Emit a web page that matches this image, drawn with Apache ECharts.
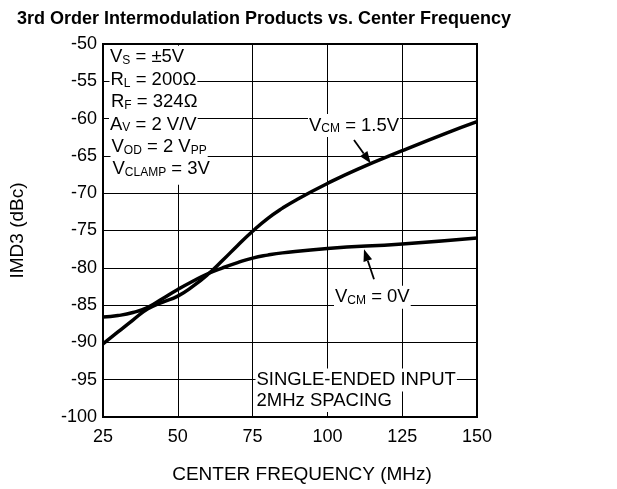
<!DOCTYPE html>
<html>
<head>
<meta charset="utf-8">
<script src="https://cdn.jsdelivr.net/npm/echarts@6/dist/echarts.min.js"></script>
<style>
  html, body { margin: 0; padding: 0; background: #fff; }
  #chart { width: 617px; height: 489px; }
</style>
</head>
<body>
<div id="chart"></div>
<script>
// Center frequency (MHz) and IMD3 (dBc) for the two common-mode settings
const freqVcm15 = [25, 30, 35, 40, 45, 50, 55, 60, 65, 70, 75, 80, 85, 90, 100, 110, 125, 140, 150];
const imdVcm15  = [-90.2, -88.6, -87.0, -85.5, -84.6, -83.8, -82.5, -80.9, -79.0, -77.0, -75.1, -73.4, -72.0, -70.8, -68.7, -66.8, -64.3, -61.9, -60.4];

const freqVcm0 = [25, 30, 35, 40, 45, 50, 55, 60, 65, 70, 75, 80, 85, 100, 125, 150];
const imdVcm0  = [-86.6, -86.4, -86.0, -85.3, -84.1, -82.9, -81.8, -80.8, -80.0, -79.3, -78.7, -78.3, -78.0, -77.4, -76.8, -76.0];

// Axis ranges / tick steps
const xTicks = [25, 50, 75, 100, 125, 150];
const yTicks = [-100, -95, -90, -85, -80, -75, -70, -65, -60, -55, -50];

const FONT = '"Liberation Sans", Arial, Helvetica, sans-serif';

function pairs(xs, ys) { return xs.map((x, i) => [x, ys[i]]); }

// Rich-text styles for labels with subscripts
const rich = {
  n: { fontSize: 18.5, fontFamily: FONT, color: '#000', lineHeight: 20, verticalAlign: 'bottom' },
  s: { fontSize: 12, fontFamily: FONT, color: '#000', lineHeight: 12, verticalAlign: 'bottom' }
};

function label(x, y, text, pad) {
  return {
    type: 'text', x: x, y: y, z: 100,
    style: {
      text: text, rich: rich, align: 'left', verticalAlign: 'top',
      backgroundColor: '#fff', padding: pad || [1, 1, 2, 1],
      font: '18.5px ' + FONT, fill: '#000'
    }
  };
}

function arrow(x1, y1, x2, y2) {
  const ang = Math.atan2(y2 - y1, x2 - x1);
  const len = 12, hw = 4.5;
  const bx = x2 - len * Math.cos(ang), by = y2 - len * Math.sin(ang);
  const px = -Math.sin(ang) * hw, py = Math.cos(ang) * hw;
  return [
    { type: 'line', z: 101, shape: { x1: x1, y1: y1, x2: bx, y2: by }, style: { stroke: '#000', lineWidth: 1.8 } },
    { type: 'polygon', z: 101, shape: { points: [[x2, y2], [bx + px, by + py], [bx - px, by - py]] }, style: { fill: '#000' } }
  ];
}

const chart = echarts.init(document.getElementById('chart'), null, { renderer: 'canvas' });

// Condition block: one white-backed line each, stacked so the boxes touch
const condTop = 45.8, condStep = 22.4;
const condLines = [
  '{n|V}{s|S}{n| = ±5V}',
  '{n|R}{s|L}{n| = 200Ω}',
  '{n|R}{s|F}{n| = 324Ω}',
  '{n|A}{s|V}{n| = 2 V/V}',
  '{n|V}{s|OD}{n| = 2 V}{s|PP}',
  '{n|V}{s|CLAMP}{n| = 3V}'
];
const condX = [109, 109.5, 110, 109, 110.5, 111.5];

const graphics = condLines.map((t, i) =>
  label(condX[i], condTop + i * condStep, t, i === condLines.length - 1 ? [1, 1, 6, 1] : [1, 1, 4, 1])
).concat([
  label(308, 114.1, '{n|V}{s|CM}{n| = 1.5V}'),
  label(334, 285.8, '{n|V}{s|CM}{n| = 0V}'),
  label(255.5, 368.4, '{n|SINGLE-ENDED INPUT}'),
  label(255.5, 389.1, '{n|2MHz SPACING}')
]).concat(arrow(354, 140, 370.7, 163.3), arrow(374, 279.3, 364, 249.3));

chart.setOption({
  animation: false,
  backgroundColor: '#fff',
  title: {
    text: '3rd Order Intermodulation Products vs. Center Frequency',
    left: 12, top: 5,
    textStyle: { fontFamily: FONT, fontWeight: 'bold', fontSize: 18, color: '#000' }
  },
  grid: {
    left: 103, top: 44, width: 374, height: 373,
    show: true, borderColor: '#000', borderWidth: 2, backgroundColor: 'transparent'
  },
  xAxis: {
    type: 'value', min: xTicks[0], max: xTicks[xTicks.length - 1], interval: 25,
    name: 'CENTER FREQUENCY (MHz)', nameLocation: 'middle', nameGap: 48,
    nameTextStyle: { fontFamily: FONT, fontSize: 19, color: '#000', padding: [0, 0, 0, 24] },
    axisLine: { show: false }, axisTick: { show: false },
    axisLabel: { fontFamily: FONT, fontSize: 18, color: '#000', margin: 11 },
    splitLine: { show: true, lineStyle: { color: '#000', width: 1 } }
  },
  yAxis: {
    type: 'value', min: yTicks[0], max: yTicks[yTicks.length - 1], interval: 5,
    name: 'IMD3 (dBc)', nameLocation: 'middle', nameGap: 76,
    nameTextStyle: { fontFamily: FONT, fontSize: 19, color: '#000' },
    axisLine: { show: false }, axisTick: { show: false },
    axisLabel: { fontFamily: FONT, fontSize: 18, color: '#000', margin: 6 },
    splitLine: { show: true, lineStyle: { color: '#000', width: 1 } }
  },
  series: [
    {
      name: 'VCM = 1.5V', type: 'line', data: pairs(freqVcm15, imdVcm15),
      smooth: 0.5, symbol: 'none', z: 5,
      lineStyle: { color: '#000', width: 3.5 }
    },
    {
      name: 'VCM = 0V', type: 'line', data: pairs(freqVcm0, imdVcm0),
      smooth: 0.5, symbol: 'none', z: 5,
      lineStyle: { color: '#000', width: 3.5 }
    }
  ],
  graphic: graphics
});
</script>
</body>
</html>
